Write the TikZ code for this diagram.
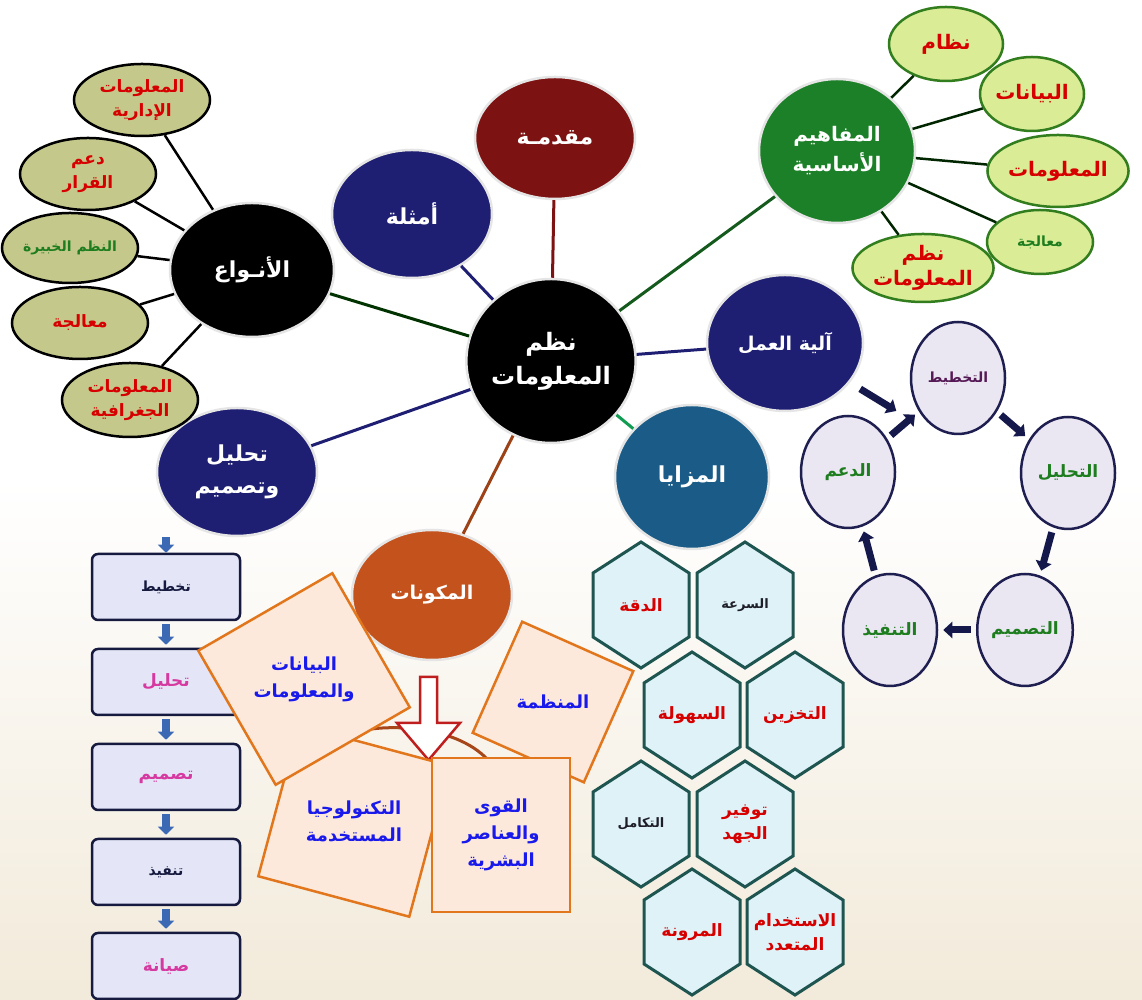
\documentclass[tikz,border=0pt]{standalone}
\usepackage{fontspec}
\usepackage{xcolor}
\usetikzlibrary{shapes.geometric, arrows.meta, positioning, calc}
\newfontfamily\arabicfont[Script=Arabic]{DejaVu Sans}
\TeXXeTstate=1
\newcommand{\artxt}[1]{{\arabicfont\beginR #1\endR}}
\definecolor{hubnavy}{RGB}{30,30,115}
\definecolor{hubred}{RGB}{125,18,18}
\definecolor{hubgreen}{RGB}{28,128,40}
\definecolor{hubteal}{RGB}{26,92,135}
\definecolor{huborange}{RGB}{196,82,28}
\definecolor{kindfill}{RGB}{196,200,138}
\definecolor{basefill}{RGB}{218,236,150}
\definecolor{baseline}{RGB}{50,125,30}
\definecolor{txtred}{RGB}{215,0,0}
\definecolor{txtgreen}{RGB}{30,125,30}
\definecolor{txtpurple}{RGB}{85,25,85}
\definecolor{txtdark}{RGB}{30,30,40}
\definecolor{phasefill}{RGB}{234,230,242}
\definecolor{phaseline}{RGB}{30,30,80}
\definecolor{hexfill}{RGB}{222,242,248}
\definecolor{hexline}{RGB}{30,85,80}
\definecolor{boxfill}{RGB}{228,230,248}
\definecolor{boxline}{RGB}{22,26,62}
\definecolor{txtmagenta}{RGB}{214,58,160}
\definecolor{partfill}{RGB}{252,233,220}
\definecolor{partline}{RGB}{226,118,28}
\definecolor{txtblue}{RGB}{25,25,235}
\definecolor{flowblue}{RGB}{60,105,180}
\definecolor{cycnavy}{RGB}{20,24,75}
\definecolor{arrowred}{RGB}{190,30,30}
\definecolor{bgbeige}{RGB}{242,234,218}
\tikzstyle{hub} = [ellipse, inner sep=0pt, draw=white!80!gray, line width=2.5pt, text=white, align=center, font=\fontsize{22}{32}\selectfont\bfseries]
\tikzstyle{kindsat} = [ellipse, minimum width=136pt, minimum height=72pt, inner sep=0pt, fill=kindfill, draw=black, line width=2.5pt, align=center, text=txtred, font=\fontsize{17}{24}\selectfont\bfseries]
\tikzstyle{basesat} = [ellipse, inner sep=0pt, fill=basefill, draw=baseline, line width=2.5pt, align=center, text=txtred, font=\fontsize{20}{25}\selectfont\bfseries]
\tikzstyle{phase} = [ellipse, minimum width=94pt, minimum height=112pt, inner sep=0pt, fill=phasefill, draw=phaseline, line width=2.5pt, text=txtgreen, font=\fontsize{17}{22}\selectfont\bfseries]
\tikzstyle{hexcell} = [inner sep=0pt, text=txtred, align=center, font=\fontsize{17}{24}\selectfont\bfseries]
\tikzstyle{hexline} = [fill=hexfill, draw=hexline, line width=3pt]
\tikzstyle{stepbox} = [rectangle, rounded corners=6pt, minimum width=148pt, minimum height=66pt, fill=boxfill, draw=boxline, line width=2.5pt, text=txtmagenta, font=\fontsize{17}{22}\selectfont\bfseries]
\tikzstyle{part} = [regular polygon, regular polygon sides=4, inner sep=0pt, fill=partfill, draw=partline, line width=2.5pt, text=txtblue, align=center, font=\fontsize{18}{27}\selectfont\bfseries]
\tikzstyle{spoke} = [line width=3pt]
\tikzstyle{twig} = [line width=2.5pt]
\tikzstyle{cyc} = [line width=7pt, color=cycnavy, -{Triangle[length=9pt,width=16pt]}, shorten <=5pt, shorten >=5pt]
\tikzstyle{flow} = [line width=8pt, color=flowblue, -{Triangle[length=8pt,width=16pt]}]
\begin{document}
\begin{tikzpicture}[x=1pt,y=1pt]
      \useasboundingbox (0,0) rectangle (1142,1000);
      \fill[white] (0,0) rectangle (1142,1000);
      \shade[top color=white, bottom color=bgbeige] (0,0) rectangle (1142,520);

      \node (c) [hub, fill=black, minimum width=164pt, minimum height=164pt, font=\fontsize{24}{34}\selectfont\bfseries] at (551,639) {\artxt{نظم}\\\artxt{المعلومات}};
      \node (intro) [hub, fill=hubred, minimum width=160pt, minimum height=122pt] at (555,862) {\artxt{مقدمـة}};
      \node (ex) [hub, fill=hubnavy, minimum width=160pt, minimum height=128pt] at (412,786) {\artxt{أمثلة}};
      \node (kinds) [hub, fill=black, minimum width=164pt, minimum height=134pt] at (252,730) {\artxt{الأنـواع}};
      \node (ad) [hub, fill=hubnavy, minimum width=160pt, minimum height=128pt] at (237,528) {\artxt{تحليل}\\\artxt{وتصميم}};
      \node (comp) [hub, fill=huborange, minimum width=160pt, minimum height=130pt, font=\fontsize{19}{26}\selectfont\bfseries] at (432,405) {\artxt{المكونات}};
      \node (adv) [hub, fill=hubteal, minimum width=154pt, minimum height=144pt] at (692,523) {\artxt{المزايا}};
      \node (mech) [hub, fill=hubnavy, minimum width=156pt, minimum height=136pt, font=\fontsize{19}{26}\selectfont\bfseries] at (785,657) {\artxt{آلية العمل}};
      \node (base) [hub, fill=hubgreen, minimum width=156pt, minimum height=144pt, font=\fontsize{20}{30}\selectfont\bfseries] at (837,849) {\artxt{المفاهيم}\\\artxt{الأساسية}};

      \draw [spoke, color=hubred] (c) -- (intro);
      \draw [spoke, color=hubnavy] (c) -- (ex);
      \draw [spoke, color=black!80!green] (c) -- (kinds);
      \draw [spoke, color=hubnavy] (c) -- (ad);
      \draw [spoke, color=huborange!80!black] (c) -- (comp);
      \draw [spoke, color=hubteal!60!green] (c) -- (adv);
      \draw [spoke, color=hubnavy] (c) -- (mech);
      \draw [spoke, color=hubgreen!70!black] (c) -- (base);

      \node (k1) [kindsat] at (142,900) {\artxt{المعلومات}\\\artxt{الإدارية}};
      \node (k2) [kindsat] at (88,826) {\artxt{دعم}\\\artxt{القرار}};
      \node (k3) [kindsat, minimum height=70pt, text=txtgreen, font=\fontsize{14}{18}\selectfont\bfseries] at (70,752) {\artxt{النظم الخبيرة}};
      \node (k4) [kindsat] at (80,677) {\artxt{معالجة}};
      \node (k5) [kindsat, minimum height=74pt] at (130,600) {\artxt{المعلومات}\\\artxt{الجغرافية}};
      \draw [twig] (kinds) -- (k1);
      \draw [twig] (kinds) -- (k2);
      \draw [twig] (kinds) -- (k3);
      \draw [twig] (kinds) -- (k4);
      \draw [twig] (kinds) -- (k5);

      \node (b1) [basesat, minimum width=114pt, minimum height=74pt] at (946,956) {\artxt{نظام}};
      \node (b2) [basesat, minimum width=104pt, minimum height=74pt] at (1032,906) {\artxt{البيانات}};
      \node (b3) [basesat, minimum width=110pt, minimum height=72pt] at (1058,829) {\artxt{المعلومات}};
      \node (b4) [basesat, minimum width=106pt, minimum height=64pt, text=txtgreen, font=\fontsize{14}{18}\selectfont\bfseries] at (1040,758) {\artxt{معالجة}};
      \node (b5) [basesat, minimum width=106pt, minimum height=68pt] at (923,732) {\artxt{نظم}\\\artxt{المعلومات}};
      \draw [twig, color=black!85!green] (base) -- (b1);
      \draw [twig, color=black!85!green] (base) -- (b2);
      \draw [twig, color=black!85!green] (base) -- (b3);
      \draw [twig, color=black!85!green] (base) -- (b4);
      \draw [twig, color=black!85!green] (base) -- (b5);

      \node (p1) [phase, text=txtpurple, font=\fontsize{14}{18}\selectfont\bfseries] at (958,622) {\artxt{التخطيط}};
      \node (p2) [phase] at (1068,527) {\artxt{التحليل}};
      \node (p3) [phase] at (1025,370) {\artxt{التصميم}};
      \node (p4) [phase] at (890,370) {\artxt{التنفيذ}};
      \node (p5) [phase] at (848,528) {\artxt{الدعم}};
      \coordinate (jn) at (898,588);
      \draw [cyc, shorten <=12pt, shorten >=2pt] (mech) -- (jn);
      \draw [cyc] (p5) -- (p1);
      \draw [cyc] (p1) -- (p2);
      \draw [cyc] (p2) -- (p3);
      \draw [cyc] (p3) -- (p4);
      \draw [cyc] (p4) -- (p5);

      \foreach \hx/\hy in {641/395, 745/395, 692/285, 795/285, 641/176, 745/176, 692/68, 795/68}
        \draw [hexline] (\hx,\hy) +(0,63) -- +(48,32) -- +(48,-32) -- +(0,-63) -- +(-48,-32) -- +(-48,32) -- cycle;
      \node (h1) [hexcell] at (641,395) {\artxt{الدقة}};
      \node (h2) [hexcell, text=txtdark, font=\fontsize{13}{18}\selectfont\bfseries] at (745,395) {\artxt{السرعة}};
      \node (h3) [hexcell] at (692,285) {\artxt{السهولة}};
      \node (h4) [hexcell] at (795,285) {\artxt{التخزين}};
      \node (h5) [hexcell, text=txtdark, font=\fontsize{13}{18}\selectfont\bfseries] at (641,176) {\artxt{التكامل}};
      \node (h6) [hexcell] at (745,176) {\artxt{توفير}\\\artxt{الجهد}};
      \node (h7) [hexcell] at (692,68) {\artxt{المرونة}};
      \node (h8) [hexcell] at (795,68) {\artxt{الاستخدام}\\\artxt{المتعدد}};

      \node (s1) [stepbox, text=boxline, font=\fontsize{14}{18}\selectfont\bfseries] at (166,413) {\artxt{تخطيط}};
      \node (s2) [stepbox] at (166,318) {\artxt{تحليل}};
      \node (s3) [stepbox] at (166,223) {\artxt{تصميم}};
      \node (s4) [stepbox, text=boxline, font=\fontsize{14}{18}\selectfont\bfseries] at (166,128) {\artxt{تنفيذ}};
      \node (s5) [stepbox] at (166,34) {\artxt{صيانة}};
      \draw [flow] (s1 |- ad.south) -- (s1);
      \draw [flow, shorten <=3pt, shorten >=3pt] (s1) -- (s2);
      \draw [flow, shorten <=3pt, shorten >=3pt] (s2) -- (s3);
      \draw [flow, shorten <=3pt, shorten >=3pt] (s3) -- (s4);
      \draw [flow, shorten <=3pt, shorten >=3pt] (s4) -- (s5);

      \draw [line width=3pt, color=huborange!85!black] (345,265) .. controls (380,278) and (455,276) .. (488,240);
      \draw [line width=2.5pt, draw=arrowred, fill=white] (420,323) -- (437,323) -- (437,277) -- (460,277) -- (428.5,240) -- (397,277) -- (420,277) -- cycle;
      \node (tech) [part, minimum size=221pt, shape border rotate=-15] at (354,179) {\artxt{التكنولوجيا}\\\artxt{المستخدمة}};
      \node (data) [part, minimum size=219pt, shape border rotate=30] at (304,321) {\artxt{البيانات}\\\artxt{والمعلومات}};
      \node (org) [part, minimum size=172pt, shape border rotate=-24] at (553,298) {\artxt{المنظمة}};
      \node (men) [rectangle, inner sep=0pt, minimum width=138pt, minimum height=154pt, fill=partfill, draw=partline, line width=2.5pt, text=txtblue, align=center, font=\fontsize{18}{27}\selectfont\bfseries] at (501,165) {\artxt{القوى}\\\artxt{والعناصر}\\\artxt{البشرية}};
    \end{tikzpicture}
\end{document}
